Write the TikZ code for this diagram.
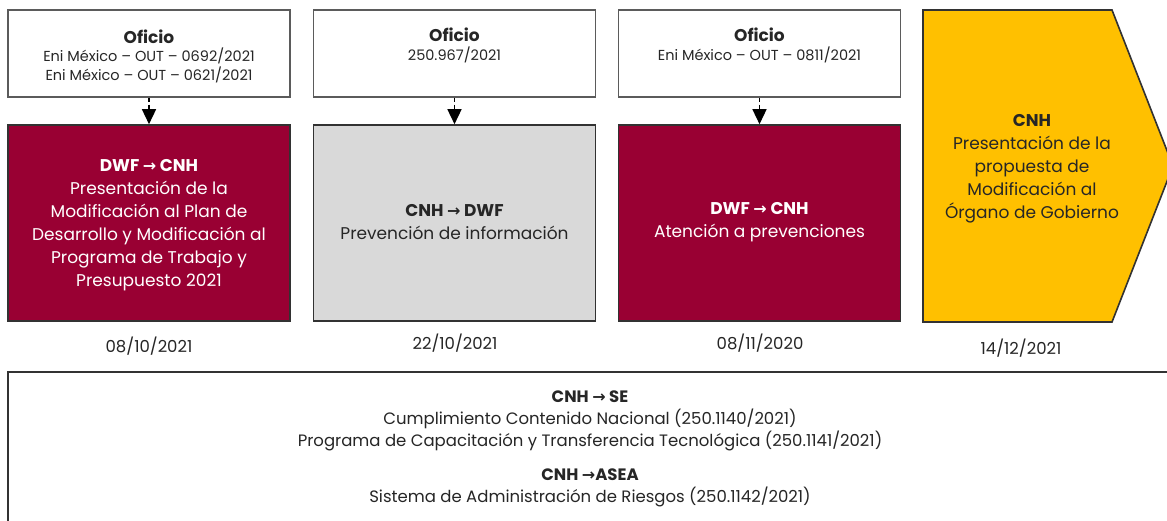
\documentclass[tikz,border=0pt]{standalone}
\usepackage{fontspec}
\setmainfont{Poppins}
\newfontfamily\arrowfont{DejaVu Sans}
\usetikzlibrary{arrows.meta}
\definecolor{maroon}{RGB}{153,0,51}
\definecolor{lgray}{RGB}{217,217,217}
\definecolor{amber}{RGB}{255,192,0}
\definecolor{edge}{RGB}{50,50,50}
\newcommand{\arr}{{\arrowfont\fontsize{16}{16}\selectfont\bfseries →}}
\begin{document}
\begin{tikzpicture}[x=1pt,y=-1pt,
  topbox/.style={draw=edge!80, line width=1.3pt, fill=white, minimum width=282pt, minimum height=87pt, align=center, inner sep=0pt, font=\fontsize{14.5}{18.5}\selectfont, text=black!85},
  mainbox/.style={draw=edge, line width=1.6pt, minimum width=282pt, minimum height=196pt, align=center, inner sep=0pt, font=\fontsize{17}{23}\selectfont},
  conn/.style={dashed, dash pattern=on 4pt off 3pt, line width=1.5pt, -{Triangle[width=14pt,length=15pt]}},
  datelbl/.style={font=\fontsize{16.5}{18}\selectfont, text=black!85},
  ttl/.style={font=\fontsize{16.5}{18}\selectfont\bfseries}
]
\useasboundingbox (0,0) rectangle (1167,521);
\clip (0,0) rectangle (1167,521);
\fill[white] (0,0) rectangle (1167,521);

% top boxes
\node[topbox] (o1) at (149,53.5) {};
\node[topbox] (o2) at (454.5,53.5) {};
\node[topbox] (o3) at (759.5,53.5) {};
\node[align=center, font=\fontsize{14.5}{18.5}\selectfont, text=black!85] (t1) at (149,56) {{\fontsize{17}{19}\selectfont\bfseries Oficio}\\Eni México – OUT – 0692/2021\\Eni México – OUT – 0621/2021};
\node[align=center, font=\fontsize{14.5}{18.5}\selectfont, text=black!85] (t2) at (454.5,56) {{\fontsize{17}{19}\selectfont\bfseries Oficio}\\250.967/2021\\\strut};
\node[align=center, font=\fontsize{14.5}{18.5}\selectfont, text=black!85] (t3) at (759.5,56) {{\fontsize{17}{19}\selectfont\bfseries Oficio}\\Eni México – OUT – 0811/2021\\\strut};

% main boxes
\node[mainbox, fill=maroon, text=white] (m1) at (149,223) {};
\node[mainbox, fill=lgray] (m2) at (454.5,223) {};
\node[mainbox, fill=maroon] (m3) at (759.5,223) {};
\node[align=center, font=\fontsize{17}{23}\selectfont, text=white] (x1) at (149,225) {{\bfseries DWF \arr{} CNH}\\Presentación de la\\Modificación al Plan de\\Desarrollo y Modificación al\\Programa de Trabajo y\\Presupuesto 2021};
\node[align=center, font=\fontsize{17}{23}\selectfont, text=black!85] (x2) at (454.5,222) {{\bfseries CNH \arr{} DWF}\\Prevención de información};
\node[align=center, font=\fontsize{17}{23}\selectfont, text=white] (x3) at (759.5,222) {{\bfseries DWF \arr{} CNH}\\Atención a prevenciones};

% chevron
\draw[draw=edge, line width=1.6pt, fill=amber] (923,10) -- (1112,10) -- (1173,166) -- (1112,322) -- (923,322) -- cycle;
\node[align=center, font=\fontsize{17}{23}\selectfont, text=black!85] (c4) at (1032,169) {{\bfseries CNH}\\Presentación de la\\propuesta de\\Modificación al\\Órgano de Gobierno};

% connectors
\draw[conn] (o1.south) -- (m1.north);
\draw[conn] (o2.south) -- (m2.north);
\draw[conn] (o3.south) -- (m3.north);

% dates
\node[datelbl] (d1) at (149,346) {08/10/2021};
\node[datelbl] (d2) at (455,343) {22/10/2021};
\node[datelbl] (d3) at (760,343) {08/11/2020};
\node[datelbl] (d4) at (1021,348) {14/12/2021};

% bottom box
\draw[draw=edge, line width=1.6pt] (8,372) rectangle (1190,540);
\node[align=center, font=\fontsize{16.5}{22}\selectfont, text=black!85] (b1) at (590,421) {{\bfseries CNH \arr{} SE}\\Cumplimiento Contenido Nacional (250.1140/2021)\\Programa de Capacitación y Transferencia Tecnológica (250.1141/2021)};
\node[align=center, font=\fontsize{16.5}{22}\selectfont, text=black!85] (b2) at (590,488) {{\bfseries CNH \arr{}ASEA}\\Sistema de Administración de Riesgos (250.1142/2021)};
\end{tikzpicture}
\end{document}
